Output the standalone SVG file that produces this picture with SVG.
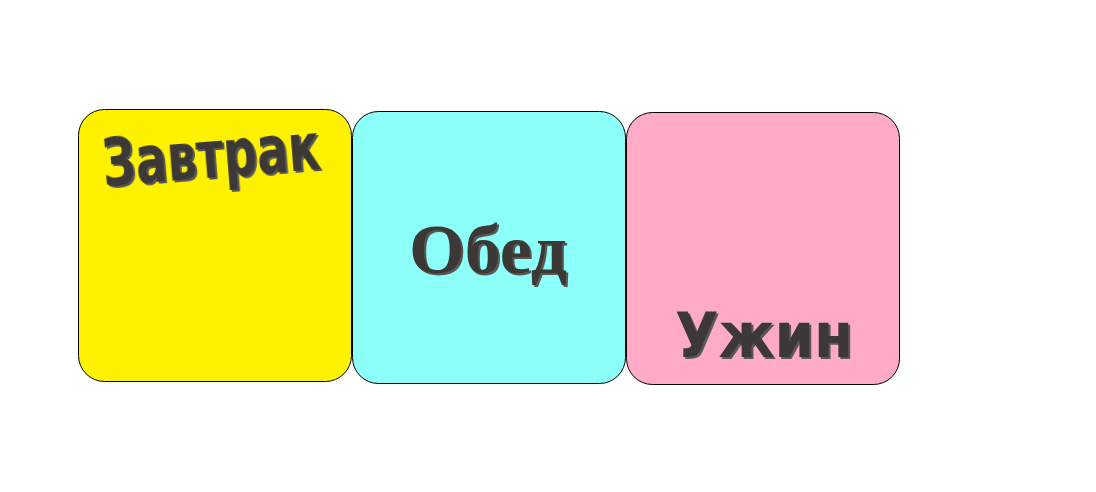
<svg xmlns="http://www.w3.org/2000/svg" width="1096" height="492" viewBox="0 0 1096 492">
<style>
.box{stroke:#000;stroke-width:1}
.lbl{fill:#3a3836;font-weight:bold;filter:url(#sh)}
.sans{font-family:"DejaVu Sans","Liberation Sans",sans-serif}
.serif{font-family:"Liberation Serif","DejaVu Serif",serif}
</style>
<defs>
<filter id="sh" x="-10%" y="-20%" width="130%" height="150%">
<feOffset in="SourceAlpha" dx="2" dy="2" result="o"/>
<feFlood flood-color="#5a5856"/>
<feComposite in2="o" operator="in" result="s"/>
<feMerge><feMergeNode in="s"/><feMergeNode in="SourceGraphic"/></feMerge>
</filter>
</defs>
<rect width="1096" height="492" fill="#fff"/>
<g id="breakfast">
<rect class="box" x="78.5" y="109.5" width="273" height="272" rx="26" fill="#fff200"/>
<text class="lbl sans" x="104" y="186" font-size="66" textLength="218" lengthAdjust="spacingAndGlyphs" transform="rotate(-4.5 104 186)">Завтрак</text>
</g>
<g id="lunch">
<rect class="box" x="352.5" y="111.5" width="273" height="272" rx="26" fill="#8cfff9"/>
<text class="lbl serif" x="409" y="273" font-size="70" textLength="158" lengthAdjust="spacingAndGlyphs">Обед</text>
</g>
<g id="dinner">
<rect class="box" x="626.5" y="112.5" width="273" height="272" rx="26" fill="#ffabc7"/>
<text class="lbl sans" x="675" y="357" font-size="62" textLength="178" lengthAdjust="spacingAndGlyphs">Ужин</text>
</g>
<g id="connectors"/>
</svg>
